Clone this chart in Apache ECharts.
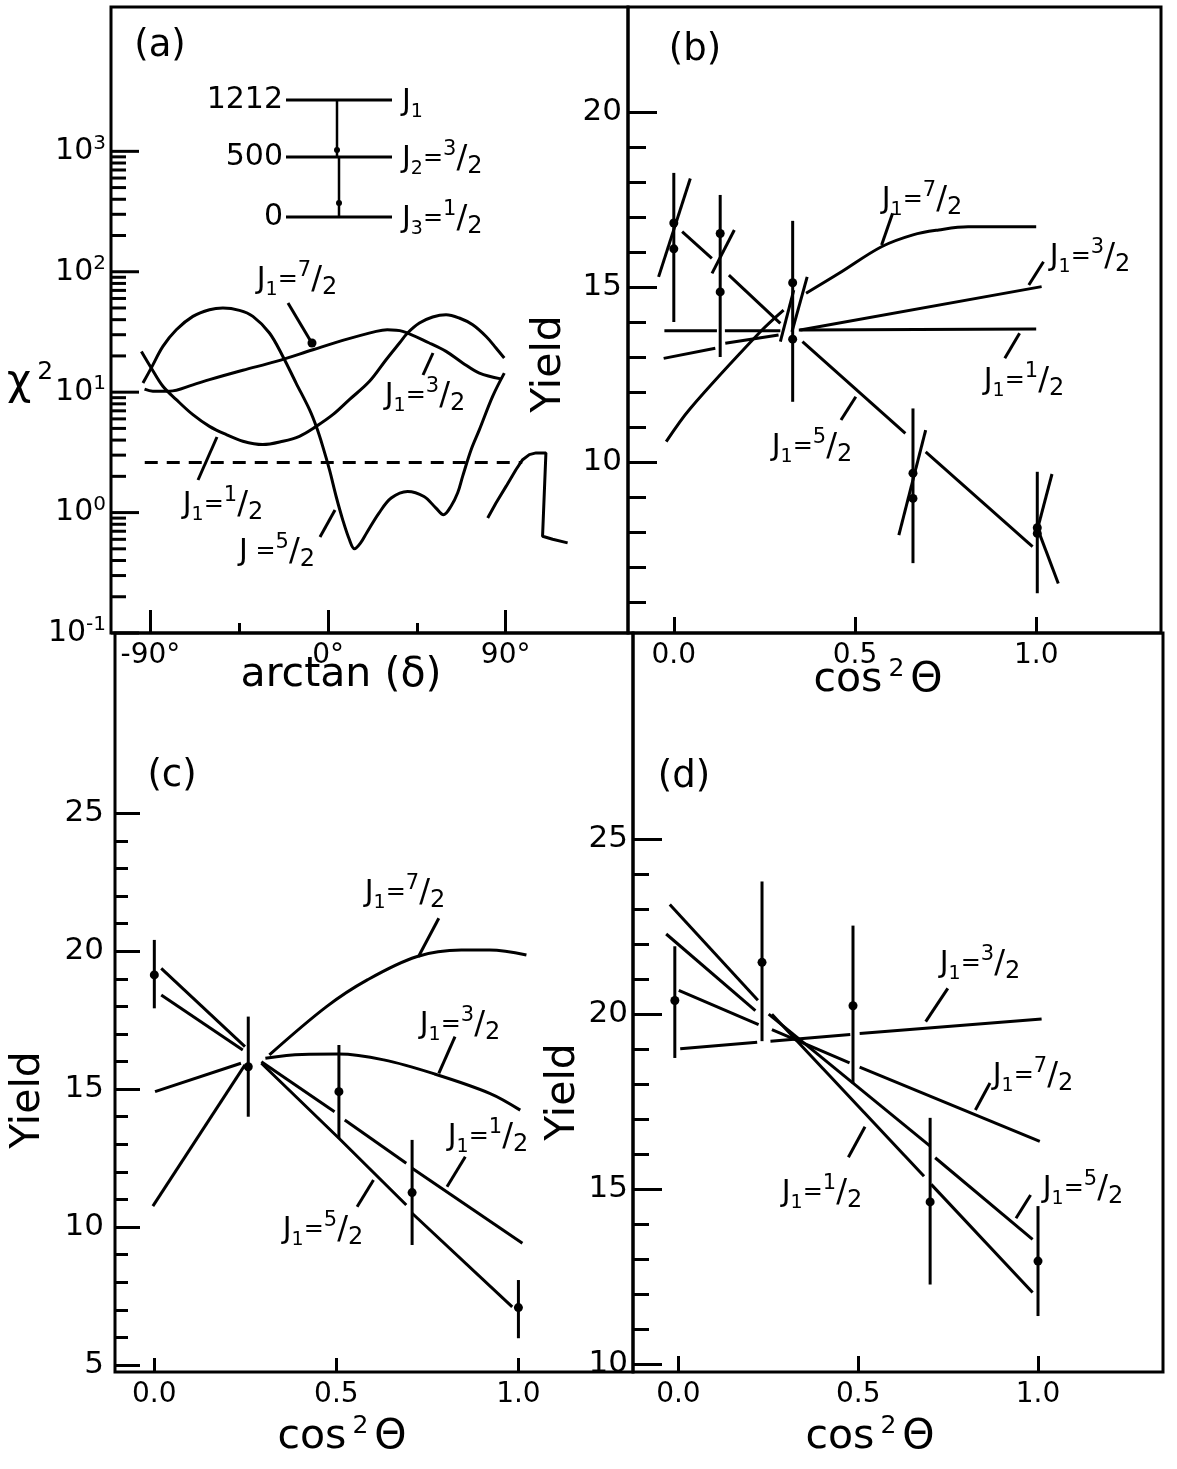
<!DOCTYPE html>
<html><head><meta charset="utf-8">
<script src="https://cdn.jsdelivr.net/npm/echarts@6/dist/echarts.min.js"></script>
<style>html,body{margin:0;padding:0;background:#fff}#c{width:1177px;height:1469px}</style>
</head><body><div id="c"></div>
<script>
// ---------------- DATA ----------------
// Panel (a): chi^2 vs arctan(delta) in degrees (log y)
const aXTicksMajor = [-90, 0, 90];
const aXTicksMinor = [-45, 45];
const aYMajor = [0.1, 1, 10, 100, 1000];
const aYMinor = [0.2,0.3,0.4,0.5,0.6,0.7,0.8,0.9, 2,3,4,5,6,7,8,9, 20,30,40,50,60,70,80,90, 200,300,400,500,600,700,800,900];
const aJ1half = [[-94.6,21.8],[-89.6,15.9],[-83.7,11.2],[-76.9,8.67],[-68.5,6.5],[-60.1,5.2],[-51.6,4.44],[-43.2,3.91],[-33.1,3.67],[-22.9,3.91],[-14.5,4.3],[-6.0,5.2],[2.4,6.5],[10.8,8.67],[21.0,12.3],[29.4,18.6],[36.2,25.6],[40.3,31.0],[46.3,37.5],[53.0,42.1],[59.8,44.0],[66.5,41.3],[73.3,36.3],[80.1,29.0],[85.1,23.3],[89.3,19.2]];
const aJfiveHalf = [[-93.8,11.9],[-89.6,15.9],[-83.7,24],[-76.9,33],[-68.5,42.6],[-60.1,48.4],[-53.3,50],[-44.9,47.8],[-38.1,42.6],[-29.7,31],[-22.9,19.8],[-16.2,11.9],[-9.4,7.16],[-6.0,5.2],[-2.7,3.55],[0.7,2.27],[4.1,1.36],[7.4,0.875],[10.8,0.597],[13.4,0.5],[16.5,0.56],[19.6,0.68],[25.8,0.99],[32,1.32],[40.3,1.5],[48.6,1.36],[54.7,1.09],[58.5,0.96],[62.3,1.13],[65.7,1.46],[68.2,2.0],[72.5,3.33],[76.7,4.89],[83.4,9.23],[89.3,14.4]];
const aJthreeHalf = [[-93.0,10.6],[-88.8,10.2],[-80.3,10.2],[-68.5,11.5],[-60.1,12.7],[-43.2,15.2],[-26.3,18.0],[-7.7,22.5],[7.4,26.9],[24.4,32],[30,33],[37.8,32],[51.3,25.6],[59.8,21.8],[68.2,17.5],[76.7,14.4],[87.6,12.9]];
const aTail = [[80.9,0.90],[85.1,1.2],[90.2,1.65],[95.2,2.27],[98.6,2.75],[102,3.03],[105.4,3.13],[110.4,3.13],[108.7,0.636],[113.8,0.6],[121.4,0.56]];
const aLimit = [[-92.9,2.6],[98.4,2.6]];

// Panel (b): yield vs cos^2(theta)
const bX = [0.0, 0.128, 0.328, 0.66, 1.003];
const bYieldA = [16.83, 16.53, 15.12, 9.68, 8.12];
const bYieldB = [16.09, 14.86, 13.51, 8.96, 7.96];
const bErrLow = [14.0, 13.0, 11.72, 7.11, 6.25];
const bErrHigh = [18.26, 17.63, 16.89, 11.53, 9.72];
const bJ72 = [[[-0.021,10.58],[0.0455,11.53],[0.2387,13.72],[0.303,14.34]],
              [[0.365,14.82],[0.456,15.39],[0.573,16.15],[0.66,16.49],[0.731,16.63],[0.812,16.72],[1.0,16.72]]];
const bJ32 = [[[-0.028,12.96],[0.1145,13.25]],[[0.142,13.39],[0.289,13.63]],[[0.349,13.77],[1.015,15.01]]];
const bJ12 = [[[-0.026,13.75],[0.119,13.75]],[[0.141,13.75],[0.294,13.75]],[[0.345,13.77],[1.0,13.80]]];
const bJ52 = [[[0.023,16.58],[0.105,15.82]],[[0.152,15.34],[0.294,13.96]],[[0.355,13.44],[0.639,10.82]],[[0.695,10.29],[0.99,7.58]]];
const bSlashes = [[[-0.042,15.29],[0.0455,18.1]],[[0.1054,15.39],[0.167,16.63]],[[0.294,13.44],[0.331,14.91]],[[0.326,13.72],[0.368,15.29]],[[0.621,7.91],[0.695,10.91]],[[1.0436,9.657],[1.003,8.06]],[[1.007,8.01],[1.061,6.53]]];

// Panel (c)
const cX = [0.0, 0.258, 0.507, 0.708, 1.0];
const cYield = [19.14, 15.81, 14.91, 11.25, 7.08];
const cErrLow = [17.93, 14.0, 13.22, 9.35, 5.97];
const cErrHigh = [20.41, 17.63, 16.6, 13.16, 8.08];
const cJ72 = [[[-0.004,10.76],[0.249,15.88]],[[0.316,16.24],[0.473,17.99],[0.585,18.96],[0.72,19.8],[0.843,20.04],[0.921,20.04],[1.022,19.86]]];
const cJ32 = [[[0.002,14.91],[0.238,15.94]],[[0.305,16.12],[0.406,16.26],[0.507,16.27],[0.63,16.06],[0.765,15.57],[0.921,14.85],[1.005,14.24]]];
const cJ12 = [[[0.019,18.41],[0.243,16.42]],[[0.294,15.99],[0.495,14.18]],[[0.523,13.88],[0.692,12.31]],[[0.708,12.13],[1.011,9.41]]];
const cJ52 = [[[0.019,19.38],[0.249,16.54]],[[0.294,15.94],[0.507,13.22],[0.692,10.8]],[[0.708,10.5],[0.983,7.11]]];

// Panel (d)
const dX = [-0.01, 0.2325, 0.4855, 0.70, 1.0];
const dYield = [20.39, 21.48, 20.24, 14.64, 12.95];
const dErrLow = [18.75, 19.23, 18.02, 12.28, 11.38];
const dErrHigh = [21.94, 23.79, 22.53, 17.04, 14.52];
const dJ32 = [[[0.005,19.01],[0.219,19.2]],[[0.256,19.23],[0.478,19.42]],[[0.504,19.45],[1.01,19.86]]];
const dJ72 = [[[0.001,20.68],[0.223,19.70]],[[0.26,19.56],[0.476,18.61]],[[0.504,18.49],[1.005,16.37]]];
const dJ12 = [[[-0.024,23.13],[0.221,20.40]],[[0.26,20.0],[0.683,15.37]],[[0.703,15.14],[0.985,12.05]]];
const dJ52 = [[[-0.034,22.29],[0.214,20.1]],[[0.251,20.0],[0.70,16.23]],[[0.714,15.9],[0.985,13.57]]];

// tick values
const cosTicks = [0, 0.5, 1];
const bYMajor = [10, 15, 20];
const bYMinor = [6,7,8,9,11,12,13,14,16,17,18,19];
const cYMajor = [5, 10, 15, 20, 25];
const cYMinor = [6,7,8,9,11,12,13,14,16,17,18,19,21,22,23,24];
const dYMajor = [10, 15, 20, 25];
const dYMinor = [11,12,13,14,16,17,18,19,21,22,23,24];

// ---------------- CHART ----------------
const F = 'DejaVu Sans';
const K = '#000';
const chart = echarts.init(document.getElementById('c'), null, {renderer: 'canvas'});

function gridBox(left, top, width, height) {
  return {left, top, width, height, show: true, borderColor: K, borderWidth: 3, backgroundColor: 'transparent'};
}
function xAx(grid, min, max, ticks, len, fmt, extra) {
  return Object.assign({
    type: 'value', gridIndex: grid, min, max, position: 'bottom', offset: 0,
    axisLine: {show: false, onZero: false}, splitLine: {show: false},
    axisTick: {show: true, inside: true, length: len, customValues: ticks, lineStyle: {color: K, width: 3}},
    axisLabel: fmt ? {show: true, customValues: ticks, formatter: fmt, color: K, fontFamily: F, fontSize: 28, margin: 9} : {show: false}
  }, extra || {});
}
function yAx(grid, min, max, ticks, len, showLabel, margin) {
  return {
    type: 'value', gridIndex: grid, min, max, position: 'left', offset: 0,
    axisLine: {show: false, onZero: false}, splitLine: {show: false},
    axisTick: {show: true, inside: true, length: len, customValues: ticks, lineStyle: {color: K, width: 3}},
    axisLabel: showLabel ? {show: true, customValues: ticks, color: K, fontFamily: F, fontSize: 31, margin: margin} : {show: false}
  };
}
const fmt1 = v => (Math.round(v * 10) / 10).toFixed(1);

const series = [];
function lineS(data, xi, yi, smooth, extra) {
  return Object.assign({type: 'line', xAxisIndex: xi, yAxisIndex: yi, data, symbol: 'none', showSymbol: false,
    silent: true, smooth: smooth, lineStyle: {color: K, width: 3}, z: 3}, extra || {});
}
function addSegs(name, segList, xi, yi, smooth) {
  segList.forEach(seg => series.push(lineS(seg, xi, yi, smooth ? 0.35 : false, {name})));
}
function errS(name, xs, ys, ys2, lo, hi, xi, yi) {
  const data = xs.map((x, i) => [x, ys[i], ys2 ? ys2[i] : ys[i], lo[i], hi[i]]);
  return {type: 'custom', name, xAxisIndex: xi, yAxisIndex: yi, data, encode: {x: 0, y: [1, 3, 4]}, silent: true, z: 4, clip: false,
    renderItem: (params, api) => {
      const x = api.value(0);
      const lo = api.coord([x, api.value(3)]), hi = api.coord([x, api.value(4)]);
      const a = api.coord([x, api.value(1)]), b = api.coord([x, api.value(2)]);
      const kids = [{type: 'line', shape: {x1: lo[0], y1: lo[1], x2: hi[0], y2: hi[1]}, style: {stroke: K, lineWidth: 3}},
        {type: 'circle', shape: {cx: a[0], cy: a[1], r: 4.5}, style: {fill: K}}];
      if (ys2) kids.push({type: 'circle', shape: {cx: b[0], cy: b[1], r: 4.5}, style: {fill: K}});
      return {type: 'group', children: kids};
    }};
}

// (a) curves
series.push(lineS(aJ1half, 0, 0, 0.35, {name: 'J1=1/2'}));
series.push(lineS(aJfiveHalf, 0, 0, 0.35, {name: 'J=5/2'}));
series.push(lineS(aJthreeHalf, 0, 0, 0.35, {name: 'J1=3/2'}));
series.push(lineS(aTail, 0, 0, false, {name: 'tail'}));
series.push(lineS(aLimit, 0, 0, false, {name: 'limit', lineStyle: {color: K, width: 3, type: [13, 9]}}));
// (a) log-axis ticks, drawn through the log scale
series.push({type: 'custom', name: 'logticks', xAxisIndex: 0, yAxisIndex: 0, silent: true, z: 5, clip: false,
  data: aYMajor.map(v => [-110, v, 28]).concat(aYMinor.map(v => [-110, v, 15])), encode: {x: 0, y: 1},
  renderItem: (params, api) => {
    const p = api.coord([api.value(0), api.value(1)]);
    const len = api.value(2);
    return {type: 'line', shape: {x1: p[0], y1: p[1], x2: p[0] + len, y2: p[1]}, style: {stroke: K, lineWidth: 3}};
  }});

// (b)
series.push(errS('b data', bX, bYieldA, bYieldB, bErrLow, bErrHigh, 2, 1));
addSegs('J1=7/2', bJ72, 2, 1, true);
addSegs('J1=3/2', bJ32, 2, 1, false);
addSegs('J1=1/2', bJ12, 2, 1, false);
addSegs('J1=5/2', bJ52, 2, 1, false);
addSegs('slash', bSlashes, 2, 1, false);
// (c)
series.push(errS('c data', cX, cYield, null, cErrLow, cErrHigh, 3, 3));
addSegs('J1=7/2', cJ72, 3, 3, true);
addSegs('J1=3/2', cJ32, 3, 3, true);
addSegs('J1=1/2', cJ12, 3, 3, false);
addSegs('J1=5/2', cJ52, 3, 3, false);
// (d)
series.push(errS('d data', dX, dYield, null, dErrLow, dErrHigh, 4, 5));
addSegs('J1=3/2', dJ32, 4, 5, false);
addSegs('J1=7/2', dJ72, 4, 5, false);
addSegs('J1=1/2', dJ12, 4, 5, false);
addSegs('J1=5/2', dJ52, 4, 5, false);

// ---------------- annotations ----------------
const RICH = {
  J: {fontFamily: F, fontSize: 30, lineHeight: 40, fill: K, color: K},
  s: {fontFamily: F, fontSize: 19, lineHeight: 19, verticalAlign: 'bottom', fill: K, color: K},
  e: {fontFamily: F, fontSize: 24, lineHeight: 40, fill: K, color: K},
  n: {fontFamily: F, fontSize: 21, lineHeight: 21, verticalAlign: 'top', fill: K, color: K},
  sl: {fontFamily: F, fontSize: 32, lineHeight: 40, fill: K, color: K},
  d: {fontFamily: F, fontSize: 24, lineHeight: 24, verticalAlign: 'bottom', fill: K, color: K},
  big: {fontFamily: F, fontSize: 41, lineHeight: 46, fill: K, color: K},
  chi: {fontFamily: F, fontSize: 42, lineHeight: 46, fill: K, color: K},
  sup: {fontFamily: F, fontSize: 25, lineHeight: 25, verticalAlign: 'top', padding: [0, 6, 0, 6], fill: K, color: K},
  num: {fontFamily: F, fontSize: 30, lineHeight: 36, fill: K, color: K}
};
const jt = (sub, num) => '{J|J}{s|' + sub + '}{e|=}{n|' + num + '}{sl|/}{d|2}';
function txt(x, y, text, opts) {
  opts = opts || {};
  return {type: 'text', x, y, rotation: opts.rot || 0, silent: true, z: 10,
    style: {text, rich: RICH, font: (opts.size || 30) + 'px ' + F, fill: K,
      align: opts.align || 'center', textAlign: opts.align || 'center',
      verticalAlign: 'middle', textVerticalAlign: 'middle'}};
}
function ln(x1, y1, x2, y2, w) {
  return {type: 'line', silent: true, z: 10, shape: {x1, y1, x2, y2}, style: {stroke: K, lineWidth: w || 3}};
}
function dot(cx, cy, r) {
  return {type: 'circle', silent: true, z: 10, shape: {cx, cy, r}, style: {fill: K}};
}
const cosT = '{big|cos}{sup|2}{big|Θ}';
const graphics = [
  txt(160, 46, '(a)', {size: 37}), txt(695, 50, '(b)', {size: 37}),
  txt(172, 776, '(c)', {size: 37}), txt(684, 777, '(d)', {size: 37}),
  txt(33, 383, '{chi|χ}{sup|2}'),
  txt(341, 675, '{big|arctan (δ)}'),
  txt(878, 680, cosT), txt(342, 1437, cosT), txt(870, 1437, cosT),
  txt(549, 364, 'Yield', {size: 41, rot: Math.PI / 2}),
  txt(28, 1100, 'Yield', {size: 41, rot: Math.PI / 2}),
  txt(563, 1092, 'Yield', {size: 41, rot: Math.PI / 2}),
  // level scheme inset (a)
  txt(283, 100, '{num|1212}', {align: 'right'}), ln(286, 100, 392, 100), txt(402, 102, '{J|J}{s|1}', {align: 'left'}),
  txt(283, 157, '{num|500}', {align: 'right'}), ln(286, 157, 392, 157), txt(402, 159, jt(2, 3), {align: 'left'}),
  txt(283, 217, '{num|0}', {align: 'right'}), ln(286, 217, 392, 217), txt(402, 219, jt(3, 1), {align: 'left'}),
  ln(337, 100, 337, 157, 2.5), dot(337, 150, 3), ln(339, 157, 339, 217, 2.5), dot(339, 203, 3),
  // (a) labels
  txt(297, 280, jt(1, 7)), ln(288, 303, 310, 340), dot(312, 343, 4.5),
  txt(425, 396, jt(1, 3)), ln(423, 375, 433, 353),
  txt(223, 505, jt(1, 1)), ln(198, 480, 217, 437),
  txt(277, 552, '{J|J}{e| =}{n|5}{sl|/}{d|2}'), ln(320, 537, 335, 510),
  // (b) labels
  txt(922, 200, jt(1, 7)), ln(881.6, 245, 892.6, 213.3),
  txt(1090, 257, jt(1, 3)), ln(1028.8, 285, 1043.5, 261.7),
  txt(1024, 381, jt(1, 1)), ln(1004.8, 358.3, 1019.6, 333.3),
  txt(812, 447, jt(1, 5)), ln(841, 420, 855.8, 396.7),
  // (c) labels
  txt(405, 893, jt(1, 7)), ln(438.8, 918.3, 418.4, 956.7),
  txt(460, 1025, jt(1, 3)), ln(455, 1036.7, 438.8, 1073.3),
  txt(488, 1137, jt(1, 1)), ln(465.3, 1156.7, 447, 1186.7),
  txt(323, 1230, jt(1, 5)), ln(357.1, 1206.7, 373.5, 1180),
  // (d) labels
  txt(980, 964, jt(1, 3)), ln(947.8, 988.3, 925.7, 1021.7),
  txt(1033, 1076, jt(1, 7)), ln(990, 1083, 975.4, 1110),
  txt(822, 1193, jt(1, 1)), ln(848.4, 1157.3, 865, 1126.7),
  txt(1083, 1189, jt(1, 5)), ln(1016, 1218.3, 1030.6, 1195)
];

const option = {
  animation: false,
  backgroundColor: '#fff',
  textStyle: {fontFamily: F, color: K},
  grid: [gridBox(111, 7, 517, 626), gridBox(628, 7, 533, 626), gridBox(115, 633, 518, 739), gridBox(633, 633, 530, 739)],
  xAxis: [
    xAx(0, -110, 152, aXTicksMajor, 23, v => v + '°'),
    xAx(0, -110, 152, aXTicksMinor, 10, null),
    xAx(1, -0.1264, 1.3444, cosTicks, 16, fmt1),
    xAx(2, -0.108, 1.3147, cosTicks, 14, fmt1),
    xAx(3, -0.1263, 1.3476, cosTicks, 16, fmt1)
  ],
  yAxis: [
    {type: 'log', logBase: 10, gridIndex: 0, min: 0.1, max: 15800, position: 'left', offset: 0,
     axisLine: {show: false, onZero: false}, splitLine: {show: false}, axisTick: {show: false},
     axisLabel: {show: true, margin: 5, color: K,
       formatter: v => { const e = Math.round(Math.log10(v)); return e > 3 ? '' : '{b|10}{p|' + e + '}'; },
       rich: {b: {fontFamily: F, fontSize: 30, lineHeight: 36, color: K}, p: {fontFamily: F, fontSize: 20, lineHeight: 20, verticalAlign: 'top', color: K}}}},
    yAx(1, 5.114, 23.0, bYMajor, 29, true, 6),
    yAx(1, 5.114, 23.0, bYMinor, 18, false),
    yAx(2, 4.746, 31.536, cYMajor, 25, true, 11),
    yAx(2, 4.746, 31.536, cYMinor, 13, false),
    yAx(3, 9.782, 30.886, dYMajor, 29, true, 5),
    yAx(3, 9.782, 30.886, dYMinor, 16, false)
  ],
  series,
  graphic: {elements: graphics}
};
chart.setOption(option);
</script></body></html>
